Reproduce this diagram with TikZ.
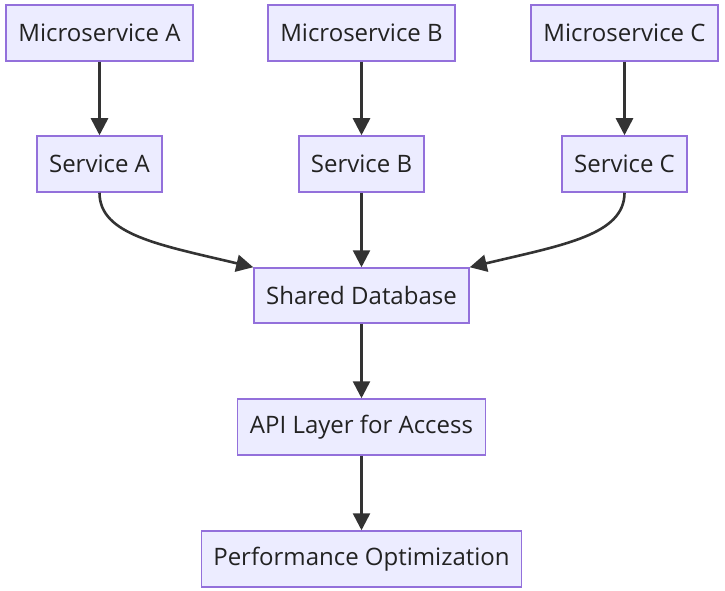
\documentclass[tikz,border=0pt]{standalone}
\usepackage{fontspec}
\setmainfont{Open Sans}
\usetikzlibrary{arrows.meta}
\definecolor{boxfill}{HTML}{ECECFF}
\definecolor{boxline}{HTML}{9370DB}
\definecolor{edge}{HTML}{333333}
\definecolor{txt}{HTML}{222222}
\begin{document}
\begin{tikzpicture}[x=1pt,y=-1pt,
  box/.style={draw=boxline,fill=boxfill,line width=1.5pt,minimum height=56pt,inner sep=0pt,
    font=\fontsize{24}{29}\selectfont,text=txt},
  conn/.style={draw=edge,line width=2.6pt,-{Triangle[length=17pt,width=17pt]}}]
\useasboundingbox (0,0) rectangle (725,591);
\node[box,minimum width=187pt] (ma) at (99.5,33) {Microservice A};
\node[box,minimum width=187pt] (mb) at (361.5,33) {Microservice B};
\node[box,minimum width=187pt] (mc) at (624.5,33) {Microservice C};
\node[box,minimum width=125pt] (sa) at (99.5,164) {Service A};
\node[box,minimum width=125pt] (sb) at (361.5,164) {Service B};
\node[box,minimum width=125pt] (sc) at (624.5,164) {Service C};
\node[box,minimum width=215pt,minimum height=55pt] (db) at (361.5,295.5) {Shared Database};
\node[box,minimum width=248pt] (api) at (361.5,427) {API Layer for Access};
\node[box,minimum width=320pt] (perf) at (361.5,559) {Performance Optimization};
\draw[conn] (ma) -- (sa);
\draw[conn] (mb) -- (sb);
\draw[conn] (mc) -- (sc);
\draw[conn] (sb) -- (db);
\draw[conn] (sa.south) .. controls (99.5,235) and (160,245) .. (db.north west);
\draw[conn] (sc.south) .. controls (624.5,235) and (563,245) .. (db.north east);
\draw[conn] (db) -- (api);
\draw[conn] (api) -- (perf);
\end{tikzpicture}
\end{document}
